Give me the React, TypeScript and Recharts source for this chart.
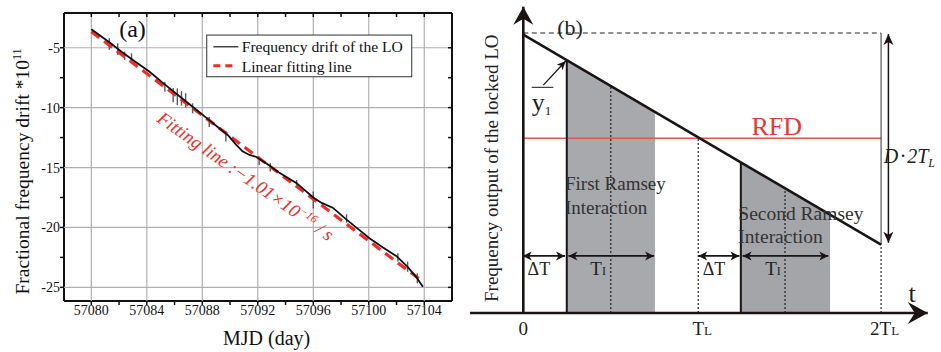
import React from 'react';
import { ComposedChart, Line, Area, XAxis, YAxis, ReferenceLine, ReferenceDot } from 'recharts';

const SERIF = '"Liberation Serif", "Times New Roman", serif';

// ---------- Panel (a) data ----------
const mjdDomain = [57078.03, 57106];
const driftDomain = [-26.14, -2.1];
const mjdTicks = [57080, 57082, 57084, 57086, 57088, 57090, 57092, 57094, 57096, 57098, 57100, 57102, 57104];
const mjdLabelTicks = [57080, 57084, 57088, 57092, 57096, 57100, 57104];
const driftTicks = [-25, -22.5, -20, -17.5, -15, -12.5, -10, -7.5, -5];
const driftLabelTicks = [-25, -20, -15, -10, -5];

const loDrift = [
  { x: 57080, y: -3.46 }, { x: 57080.6, y: -3.95 }, { x: 57081.35, y: -4.58 }, { x: 57082.2, y: -5.35 },
  { x: 57083.0, y: -6.03 }, { x: 57084.2, y: -7.0 }, { x: 57085.2, y: -7.97 }, { x: 57086.4, y: -9.09 },
  { x: 57087.3, y: -9.93 }, { x: 57088.5, y: -11.04 }, { x: 57089.2, y: -11.7 }, { x: 57089.85, y: -12.3 },
  { x: 57090.4, y: -13.05 }, { x: 57090.9, y: -13.65 }, { x: 57091.4, y: -13.95 }, { x: 57091.9, y: -14.12 },
  { x: 57092.6, y: -14.65 }, { x: 57093.5, y: -15.4 }, { x: 57094.8, y: -16.3 }, { x: 57096.0, y: -17.5 },
  { x: 57096.6, y: -17.95 }, { x: 57097.4, y: -18.35 }, { x: 57098.4, y: -19.35 }, { x: 57099.2, y: -20.1 },
  { x: 57100.05, y: -20.9 }, { x: 57101.0, y: -21.65 }, { x: 57102.0, y: -22.4 }, { x: 57102.8, y: -23.3 },
  { x: 57103.4, y: -24.1 }, { x: 57103.9, y: -24.95 },
];
const fitLine = [{ x: 57080, y: -3.66 }, { x: 57103.7, y: -24.35 }];
const loErrors = [
  { x: 57081.3, y: -4.69, e: 0.49 }, { x: 57081.9, y: -5.11, e: 0.49 }, { x: 57082.4, y: -5.67, e: 0.35 },
  { x: 57082.9, y: -5.89, e: 0.42 }, { x: 57085.3, y: -8.26, e: 0.42 }, { x: 57085.9, y: -8.95, e: 0.6 },
  { x: 57086.2, y: -9.09, e: 0.7 }, { x: 57086.5, y: -9.23, e: 0.6 }, { x: 57086.8, y: -9.4, e: 0.6 },
  { x: 57087.3, y: -10.06, e: 0.42 }, { x: 57088.5, y: -11.2, e: 0.42 }, { x: 57089.7, y: -12.4, e: 0.42 },
  { x: 57092.1, y: -14.43, e: 0.35 }, { x: 57092.9, y: -14.98, e: 0.35 }, { x: 57094.8, y: -16.32, e: 0.28 },
  { x: 57096.0, y: -17.71, e: 0.7 }, { x: 57098.4, y: -19.25, e: 0.35 }, { x: 57102.1, y: -22.5, e: 0.35 },
  { x: 57102.8, y: -23.28, e: 0.42 }, { x: 57103.5, y: -24.25, e: 0.42 },
];
const errorSegs = loErrors.map((d) => [{ x: d.x, y: d.y - d.e }, { x: d.x, y: d.y + d.e }]);

// ---------- Panel (b) data ----------
const bTicks = [0, 1, 2.02];
const bTickLabels = [['0', ''], ['T', 'L'], ['2T', 'L']];
const lockedLO = [{ t: 0, v: 0.994 }, { t: 2, v: 0.244 }];
const firstRamsey = [{ t: 0.243, v: 0.903 }, { t: 0.736, v: 0.718 }];
const secondRamsey = [{ t: 1.216, v: 0.538 }, { t: 1.715, v: 0.351 }];
const rfdLevel = 0.624;
const topLevel = 1.0;
const dottedLines = [[0.489, 0.811], [1.463, 0.445], [0.978, 0.627], [2.0, 0.244]];
const edgeLines = [[0.243, 0.903], [1.216, 0.538]];
const spanArrows = [[-0.003, 0.233], [0.252, 0.731], [0.978, 1.208], [1.226, 1.705]];
const spanLevel = 0.204;

const head = (x: number, y: number, fx: number, fy: number, len: number, half: number, notch: number) => {
  const dx = x - fx, dy = y - fy;
  const L = Math.hypot(dx, dy) || 1;
  const ux = dx / L, uy = dy / L, nx = -uy, ny = ux;
  const bx = x - ux * len, by = y - uy * len;
  const mx = x - ux * (len - notch), my = y - uy * (len - notch);
  return `M${x},${y} L${bx + nx * half},${by + ny * half} L${mx},${my} L${bx - nx * half},${by - ny * half} Z`;
};

const arrowShape = (len: number, half: number, notch: number, width: number, both: boolean, color = '#1a1414') => (p: any) => {
  const { x1, y1, x2, y2 } = p;
  return (
    <g>
      <line x1={x1} y1={y1} x2={x2} y2={y2} stroke={color} strokeWidth={width} />
      <path d={head(x2, y2, x1, y1, len, half, notch)} fill={color} />
      {both ? <path d={head(x1, y1, x2, y2, len, half, notch)} fill={color} /> : null}
    </g>
  );
};

const textShape = (render: (x: number, y: number) => React.ReactNode) => (p: any) => <g>{render(p.cx, p.cy)}</g>;

const BTick = (props: any) => {
  const { x, y, payload } = props;
  const i = bTicks.indexOf(payload.value);
  const lab = bTickLabels[i] || ['', ''];
  return (
    <text x={x} y={y + 22} textAnchor="middle" fontFamily={SERIF} fontSize={19} fill="#222">
      {lab[0]}<tspan fontSize={13}>{lab[1]}</tspan>
    </text>
  );
};

const XTickA = (props: any) => {
  const { x, y, payload } = props;
  if (!mjdLabelTicks.includes(payload.value)) return <g />;
  return (
    <text x={x} y={y + 10} textAnchor="middle" fontFamily={SERIF} fontSize={14} fill="#111">{String(payload.value)}</text>
  );
};
const YTickA = (props: any) => {
  const { x, y, payload } = props;
  if (!driftLabelTicks.includes(payload.value)) return <g />;
  return (
    <text x={x} y={y + 5} textAnchor="end" fontFamily={SERIF} fontSize={14} fill="#111">{String(payload.value)}</text>
  );
};

const RED = '#ee2d2a';
const GRID = '#b0b0b0';
const MARGIN_A = { top: 13, right: 18, bottom: 21, left: 24 };
const AXIS_LINE = { stroke: '#111', strokeWidth: 2 };
const TICK_LINE = { stroke: '#111', strokeWidth: 1.5 };
const X_TICK_EL = <XTickA />;
const Y_TICK_EL = <YTickA />;

// bottom layer of panel (a): styled axes, tick labels and axis titles
function AxesA() {
  return (
    <ComposedChart width={470} height={352} margin={MARGIN_A}>
      <XAxis dataKey="x" type="number" domain={mjdDomain} allowDataOverflow ticks={mjdTicks} interval={0}
        tick={X_TICK_EL} tickSize={4} tickMargin={0} axisLine={AXIS_LINE} tickLine={TICK_LINE} height={30} />
      <YAxis dataKey="y" type="number" domain={driftDomain} allowDataOverflow ticks={driftTicks} interval={0}
        tick={Y_TICK_EL} tickSize={4} tickMargin={0} axisLine={AXIS_LINE} tickLine={TICK_LINE} width={40} />
      <Line data={fitLine} dataKey="y" stroke="none" dot={false} activeDot={false} isAnimationActive={false} legendType="none" />
      <ReferenceDot x={57075.51} y={-15.33} r={0} ifOverflow="visible"
        shape={textShape((x, y) => (
          <text x={x} y={y} transform={`rotate(-90 ${x} ${y})`} textAnchor="middle" fontFamily={SERIF} fontSize={19.5} fill="#111">
            Fractional frequency drift *10<tspan dy={-8} fontSize={12}>11</tspan>
          </text>
        ))} />
      <ReferenceDot x={57092.64} y={-29.82} r={0} ifOverflow="visible"
        shape={textShape((x, y) => (
          <text x={x} y={y} textAnchor="middle" fontFamily={SERIF} fontSize={20} fill="#111">MJD (day)</text>
        ))} />
    </ComposedChart>
  );
}

// top layer of panel (a): grid, frame, series, legend and annotation
function PlotA() {
  const [x0, x1] = mjdDomain;
  const [y0, y1] = driftDomain;
  const tickDy = 4 / 11.98;
  const tickDx = 4 / 13.87;
  return (
    <ComposedChart width={470} height={352} margin={{ top: 13, right: 18, bottom: 21, left: 24 }}>
      <XAxis dataKey="x" type="number" domain={[x0, x1]} allowDataOverflow height={30} tick={false} axisLine={false} tickLine={false} />
      <YAxis dataKey="y" type="number" domain={[y0, y1]} allowDataOverflow width={40} tick={false} axisLine={false} tickLine={false} />

      {mjdLabelTicks.map((v) => (
        <ReferenceLine key={'gx' + v} x={v} stroke={GRID} strokeWidth={1.2} />
      ))}
      {driftLabelTicks.map((v) => (
        <ReferenceLine key={'gy' + v} y={v} stroke={GRID} strokeWidth={1.2} />
      ))}

      {errorSegs.map((d, i) => (
        <Line key={'er' + i} data={d} dataKey="y" stroke="#5a5a5a" strokeWidth={1.4} dot={false} activeDot={false} isAnimationActive={false} legendType="none" />
      ))}
      <Line data={fitLine} dataKey="y" stroke={RED} strokeWidth={3.2} strokeDasharray="10 6" dot={false} activeDot={false} isAnimationActive={false} />
      <Line data={loDrift} dataKey="y" stroke="#111" strokeWidth={1.8} dot={false} activeDot={false} isAnimationActive={false} />

      <ReferenceLine segment={[{ x: x0, y: y1 }, { x: x1, y: y1 }]} stroke="#111" strokeWidth={2} ifOverflow="visible" />
      <ReferenceLine segment={[{ x: x1, y: y0 }, { x: x1, y: y1 }]} stroke="#111" strokeWidth={2} ifOverflow="visible" />
      {mjdTicks.map((v) => (
        <ReferenceLine key={'tt' + v} segment={[{ x: v, y: y1 }, { x: v, y: y1 - tickDy }]} stroke="#111" strokeWidth={1.5} ifOverflow="visible" />
      ))}
      {driftTicks.map((v) => (
        <ReferenceLine key={'rt' + v} segment={[{ x: x1, y: v }, { x: x1 - tickDx, y: v }]} stroke="#111" strokeWidth={1.5} ifOverflow="visible" />
      ))}

      <ReferenceDot x={57082.97} y={-4.11} r={0} ifOverflow="visible"
        shape={textShape((x, y) => (
          <text x={x} y={y} textAnchor="middle" fontFamily={SERIF} fontSize={24} fill="#111">(a)</text>
        ))} />
      <ReferenceDot x={57088.32} y={-3.94} r={0} ifOverflow="visible"
        shape={textShape((x, y) => (
          <g>
            <rect x={x} y={y} width={205} height={41.7} fill="#fff" stroke="#333" strokeWidth={1} />
            <line x1={x + 6.6} x2={x + 31.6} y1={y + 11.7} y2={y + 11.7} stroke="#444" strokeWidth={1.5} />
            <text x={x + 35} y={y + 16.7} fontFamily={SERIF} fontSize={15.6} fill="#111">Frequency drift of the LO</text>
            <line x1={x + 6.6} x2={x + 25.6} y1={y + 30.7} y2={y + 30.7} stroke={RED} strokeWidth={3} strokeDasharray="7 5" />
            <text x={x + 35} y={y + 36.7} fontFamily={SERIF} fontSize={15.6} fill="#111">Linear fitting line</text>
          </g>
        ))} />
      <ReferenceDot x={57084.66} y={-11.12} r={0} ifOverflow="visible"
        shape={textShape((x, y) => (
          <text x={x} y={y} transform={`rotate(35 ${x} ${y})`} fontFamily={SERIF} fontStyle="italic" fontSize={18.5} fill={RED}>
            Fitting line :−1.01×10<tspan dy={-7} fontSize={11.5}>−16</tspan><tspan dy={7}> / s</tspan>
          </text>
        ))} />
    </ComposedChart>
  );
}

function PanelA() {
  return (
    <div style={{ position: 'relative', width: 470, height: 352, flex: '0 0 470px' }}>
      <div style={{ position: 'absolute', left: 0, top: 0 }}><AxesA /></div>
      <div style={{ position: 'absolute', left: 0, top: 0 }}><PlotA /></div>
    </div>
  );
}

function PanelB() {
  const INK = '#1a1414';
  return (
    <ComposedChart width={471} height={352} margin={{ top: 0, right: 0, bottom: 0, left: 0 }}>
      <XAxis dataKey="t" type="number" domain={[-0.298, 2.335]} allowDataOverflow ticks={bTicks} interval={0}
        tick={<BTick />} axisLine={false} tickLine={false} tickSize={0} tickMargin={0} height={39} />
      <YAxis hide type="number" domain={[0, 313 / 280]} allowDataOverflow />

      <Area data={firstRamsey} dataKey="v" type="linear" baseValue={0} fill="#a7a9ac" fillOpacity={1} stroke="none" isAnimationActive={false} />
      <Area data={secondRamsey} dataKey="v" type="linear" baseValue={0} fill="#a3a5a9" fillOpacity={1} stroke="none" isAnimationActive={false} />

      <ReferenceLine segment={[{ x: 0, y: topLevel }, { x: 2, y: topLevel }]} stroke="#222" strokeWidth={1.2} strokeDasharray="5 3.5" ifOverflow="visible" />
      <ReferenceLine segment={[{ x: 0, y: rfdLevel }, { x: 2, y: rfdLevel }]} stroke="#e4554f" strokeWidth={1.6} ifOverflow="visible" />
      <ReferenceLine segment={[{ x: 2, y: lockedLO[1].v }, { x: 2, y: topLevel }]} stroke="#333" strokeWidth={1} ifOverflow="visible" />
      {dottedLines.map(([t, v]) => (
        <ReferenceLine key={'d' + t} segment={[{ x: t, y: 0 }, { x: t, y: v }]} stroke="#222" strokeWidth={1.2} strokeDasharray="2 2" ifOverflow="visible" />
      ))}
      {edgeLines.map(([t, v]) => (
        <ReferenceLine key={'e' + t} segment={[{ x: t, y: 0 }, { x: t, y: v }]} stroke={INK} strokeWidth={2} ifOverflow="visible" />
      ))}

      <Line data={lockedLO} dataKey="v" type="linear" stroke={INK} strokeWidth={2.5} dot={false} activeDot={false} isAnimationActive={false} />

      <ReferenceLine segment={[{ x: -0.298, y: 0 }, { x: 2.261, y: 0 }]} ifOverflow="visible" shape={arrowShape(20, 11, 7, 2.6, false, INK)} />
      <ReferenceLine segment={[{ x: 0, y: 0 }, { x: 0, y: 1.094 }]} ifOverflow="visible" shape={arrowShape(18, 10, 6, 2.6, false, INK)} />
      <ReferenceLine segment={[{ x: 2.041, y: 0.251 }, { x: 2.041, y: 0.996 }]} ifOverflow="visible" shape={arrowShape(11, 5, 3, 1.5, true, INK)} />
      {spanArrows.map(([a, b]) => (
        <ReferenceLine key={'s' + a} segment={[{ x: a, y: spanLevel }, { x: b, y: spanLevel }]} ifOverflow="visible" shape={arrowShape(9, 4.5, 2.5, 1.6, true, INK)} />
      ))}
      <ReferenceLine segment={[{ x: 0.112, y: 0.814 }, { x: 0.237, y: 0.9 }]} ifOverflow="visible" shape={arrowShape(9, 4, 2.5, 1.3, false, INK)} />
      <ReferenceLine segment={[{ x: 0.047, y: 0.806 }, { x: 0.168, y: 0.806 }]} stroke={INK} strokeWidth={1} ifOverflow="visible" />

      <ReferenceDot x={0.261} y={0.993} r={0} ifOverflow="visible"
        shape={textShape((x, y) => <text x={x} y={y} textAnchor="middle" fontFamily={SERIF} fontSize={22} fill="#222">(b)</text>)} />
      <ReferenceDot x={0.047} y={0.721} r={0} ifOverflow="visible"
        shape={textShape((x, y) => (
          <text x={x} y={y} fontFamily={SERIF} fontSize={26} fill="#222">y<tspan dy={4} fontSize={13}>1</tspan></text>
        ))} />
      <ReferenceDot x={1.417} y={0.636} r={0} ifOverflow="visible"
        shape={textShape((x, y) => <text x={x} y={y} textAnchor="middle" fontFamily={SERIF} fontSize={26} fill="#e43a36">RFD</text>)} />
      <ReferenceDot x={0.233} y={0.439} r={0} ifOverflow="visible"
        shape={textShape((x, y) => (
          <g fontFamily={SERIF} fontSize={19} fill="#333">
            <text x={x} y={y}>First Ramsey</text>
            <text x={x} y={y + 24.3}>Interaction</text>
          </g>
        ))} />
      <ReferenceDot x={1.202} y={0.332} r={0} ifOverflow="visible"
        shape={textShape((x, y) => (
          <g fontFamily={SERIF} fontSize={19.5} fill="#333">
            <text x={x} y={y}>Second Ramsey</text>
            <text x={x} y={y + 23.3}>Interaction</text>
          </g>
        ))} />
      {[0.087, 1.066].map((t) => (
        <ReferenceDot key={'dt' + t} x={t} y={0.136} r={0} ifOverflow="visible"
          shape={textShape((x, y) => <text x={x} y={y} textAnchor="middle" fontFamily={SERIF} fontSize={18} fill="#222">ΔT</text>)} />
      ))}
      {[0.418, 1.396].map((t) => (
        <ReferenceDot key={'ti' + t} x={t} y={0.136} r={0} ifOverflow="visible"
          shape={textShape((x, y) => (
            <text x={x} y={y} textAnchor="middle" fontFamily={SERIF} fontSize={19} fill="#222">T<tspan fontSize={12}>I</tspan></text>
          ))} />
      ))}
      <ReferenceDot x={2.173} y={0.04} r={0} ifOverflow="visible"
        shape={textShape((x, y) => <text x={x} y={y} textAnchor="middle" fontFamily={SERIF} fontSize={26} fill="#222">t</text>)} />
      <ReferenceDot x={2.015} y={0.535} r={0} ifOverflow="visible"
        shape={textShape((x, y) => (
          <text x={x} y={y} fontFamily={SERIF} fontStyle="italic" fontSize={20} fill="#222">
            D<tspan dx={2}>·</tspan><tspan dx={2}>2T</tspan><tspan dy={4} fontSize={12}>L</tspan>
          </text>
        ))} />
      <ReferenceDot x={-0.141} y={0.517} r={0} ifOverflow="visible"
        shape={textShape((x, y) => (
          <text x={x} y={y} transform={`rotate(-90 ${x} ${y})`} textAnchor="middle" fontFamily={SERIF} fontSize={19} fill="#222">
            Frequency output of the locked LO
          </text>
        ))} />
    </ComposedChart>
  );
}

export default function App() {
  return (
    <div style={{ position: 'absolute', left: 0, top: 0, width: 941, height: 352, display: 'flex', background: '#fff', fontFamily: SERIF }}>
      <PanelA />
      <PanelB />
    </div>
  );
}
